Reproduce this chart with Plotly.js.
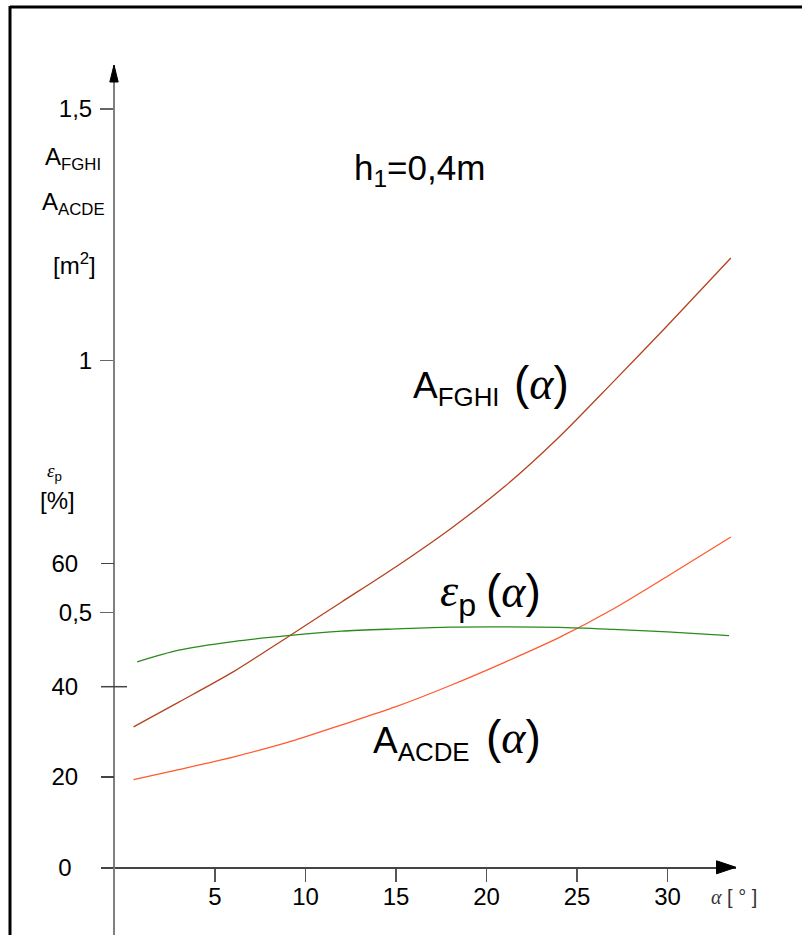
<!DOCTYPE html>
<html>
<head>
<meta charset="utf-8">
<script src="https://cdn.plot.ly/plotly-3.0.1.min.js"></script>
<style>html,body{margin:0;padding:0;background:#fff;} #chart{width:802px;height:935px;}</style>
</head>
<body>
<div id="chart"></div>
<script>
// ---- data ----
const alphaA = [0.5, 3, 6, 9, 12, 15, 18, 21, 24, 27, 30, 33.5];          // α [°]
const A_FGHI = [0.273, 0.322, 0.382, 0.451, 0.521, 0.591, 0.666, 0.750, 0.848, 0.958, 1.070, 1.204]; // m²
const A_ACDE = [0.168, 0.188, 0.213, 0.242, 0.277, 0.313, 0.355, 0.401, 0.450, 0.507, 0.572, 0.650]; // m²
const alphaEps = [0.7, 3, 6, 9, 12, 15, 18, 21, 24, 27, 30, 33.4];
const epsP = [45.5, 48.1, 50.0, 51.3, 52.3, 52.8, 53.2, 53.25, 53.15, 52.7, 52.15, 51.3]; // %
const xTicks = [5, 10, 15, 20, 25, 30];
const areaTickVals = [0.5, 1, 1.5];
const areaTickText = ['0,5', '1', '1,5'];
const epsTickVals = [0, 20, 40, 67.3];   // the drawn "60" mark sits above the linear 0-20-40 spacing
const epsTickText = ['0\u2008', '20', '40', '60'];

// ---- layout geometry (pixels) ----
const W = 802, H = 935;
const L = 101, R = 736, T = 65, B = 935;
const px = v => (v - L) / (R - L);
const py = v => (B - v) / (B - T);

const FONT = 'Arial, Liberation Sans, sans-serif';
const GREEK = 'Liberation Serif, DejaVu Serif, serif';

const traces = [
  {x: alphaA, y: A_FGHI, type: 'scatter', mode: 'lines', name: 'A_FGHI',
   line: {color: '#B4431F', width: 1.3, shape: 'spline', smoothing: 0.8}, xaxis: 'x', yaxis: 'y'},
  {x: alphaA, y: A_ACDE, type: 'scatter', mode: 'lines', name: 'A_ACDE',
   line: {color: '#FF5A2E', width: 1.3, shape: 'spline', smoothing: 0.8}, xaxis: 'x', yaxis: 'y'},
  {x: alphaEps, y: epsP, type: 'scatter', mode: 'lines', name: 'eps_p',
   line: {color: '#2A8A1C', width: 1.3, shape: 'spline', smoothing: 0.8}, xaxis: 'x', yaxis: 'y2'}
];

const gAl = `<span style="font-family:${GREEK};font-style:italic">α</span>`;
const gEps = `<span style="font-family:${GREEK};font-style:italic">ε</span>`;
const parAl = `(${gAl})`;

const ann = (text, x, y, size, xanchor, color) => ({
  text: text, xref: 'paper', yref: 'paper', x: px(x), y: py(y),
  xanchor: xanchor || 'left', yanchor: 'middle', showarrow: false,
  font: {family: FONT, size: size, color: color || '#000'}
});

const layout = {
  width: W, height: H,
  margin: {l: L, r: W - R, t: T, b: H - B, pad: 0},
  paper_bgcolor: '#fff', plot_bgcolor: '#fff',
  showlegend: false,
  font: {family: FONT, size: 24, color: '#000'},
  xaxis: {
    range: [(L - 124.5) / 18.1, (R - 124.5) / 18.1],
    anchor: 'free', position: py(867.3),
    showgrid: false, zeroline: false,
    showline: true, linecolor: '#444', linewidth: 1.5,
    tickmode: 'array', tickvals: xTicks,
    ticks: 'outside', ticklen: 13, tickwidth: 1.5, tickcolor: '#555',
    tickfont: {family: FONT, size: 24, color: '#000'},
    ticklabelstandoff: -6
  },
  yaxis: {
    range: [(864.3 - B) / 503.6, (864.3 - T) / 503.6],
    anchor: 'free', position: px(114), side: 'left',
    showgrid: false, zeroline: false,
    showline: true, linecolor: '#808080', linewidth: 2,
    tickmode: 'array', tickvals: areaTickVals, ticktext: areaTickText,
    ticks: 'outside', ticklen: 13, tickwidth: 1.5, tickcolor: '#666',
    tickfont: {family: FONT, size: 24, color: '#000'},
    ticklabelstandoff: 3
  },
  yaxis2: {
    range: [(867.3 - B) / 4.515, (867.3 - T) / 4.515],
    overlaying: 'y', anchor: 'free', position: px(114), side: 'left',
    showgrid: false, zeroline: false, showline: false,
    tickmode: 'array', tickvals: epsTickVals, ticktext: epsTickText,
    ticks: 'outside', ticklen: 13, tickwidth: 1.5, tickcolor: '#444',
    tickfont: {family: FONT, size: 24, color: '#000'},
    ticklabelstandoff: 18
  },
  shapes: [
    // frame
    {type: 'line', xref: 'paper', yref: 'paper', x0: px(10), x1: px(802), y0: py(7), y1: py(7),
     line: {color: '#000', width: 3}},
    {type: 'line', xref: 'paper', yref: 'paper', x0: px(10), x1: px(10), y0: py(6), y1: py(935),
     line: {color: '#000', width: 3}},
    // long tick crossing the axis at 40 %
    {type: 'line', xref: 'paper', yref: 'y2', x0: px(101), x1: px(127), y0: 40, y1: 40,
     line: {color: '#444', width: 1.5}},
    // arrow heads
    {type: 'path', xref: 'paper', yref: 'paper',
     path: `M ${px(114)} ${py(65)} L ${px(109.8)} ${py(82)} L ${px(118.2)} ${py(82)} Z`,
     fillcolor: '#000', line: {color: '#000', width: 1}},
    {type: 'path', xref: 'paper', yref: 'paper',
     path: `M ${px(736)} ${py(867.3)} L ${px(716.5)} ${py(860.8)} L ${px(716.5)} ${py(873.8)} Z`,
     fillcolor: '#000', line: {color: '#000', width: 1}}
  ],
  annotations: [
    ann('h<sub>1</sub>=0,4m', 352, 170, 35),
    ann('A<sub>FGHI</sub>', 411, 388, 37),
    ann(parAl, 512, 383, 46),
    ann('A<sub>ACDE</sub>', 371, 743, 37),
    ann(parAl, 484, 737, 46),
    ann(`${gEps}<sub>p</sub>`, 438, 594, 46),
    ann(parAl, 484, 591, 46),
    ann('A<sub>FGHI</sub>', 73, 158, 24, 'center'),
    ann('A<sub>ACDE</sub>', 73.5, 203, 24, 'center'),
    ann('[m<sup>2</sup>]', 74, 264, 24, 'center'),
    ann(`${gEps}<sub>p</sub>`, 54, 472, 19, 'center'),
    ann('[%]', 57, 500, 24, 'center'),
    ann(`${gAl} [ ° ]`, 709, 897, 20, 'left', '#333')
  ]
};

Plotly.newPlot('chart', traces, layout, {displayModeBar: false, staticPlot: true});
</script>
</body>
</html>
